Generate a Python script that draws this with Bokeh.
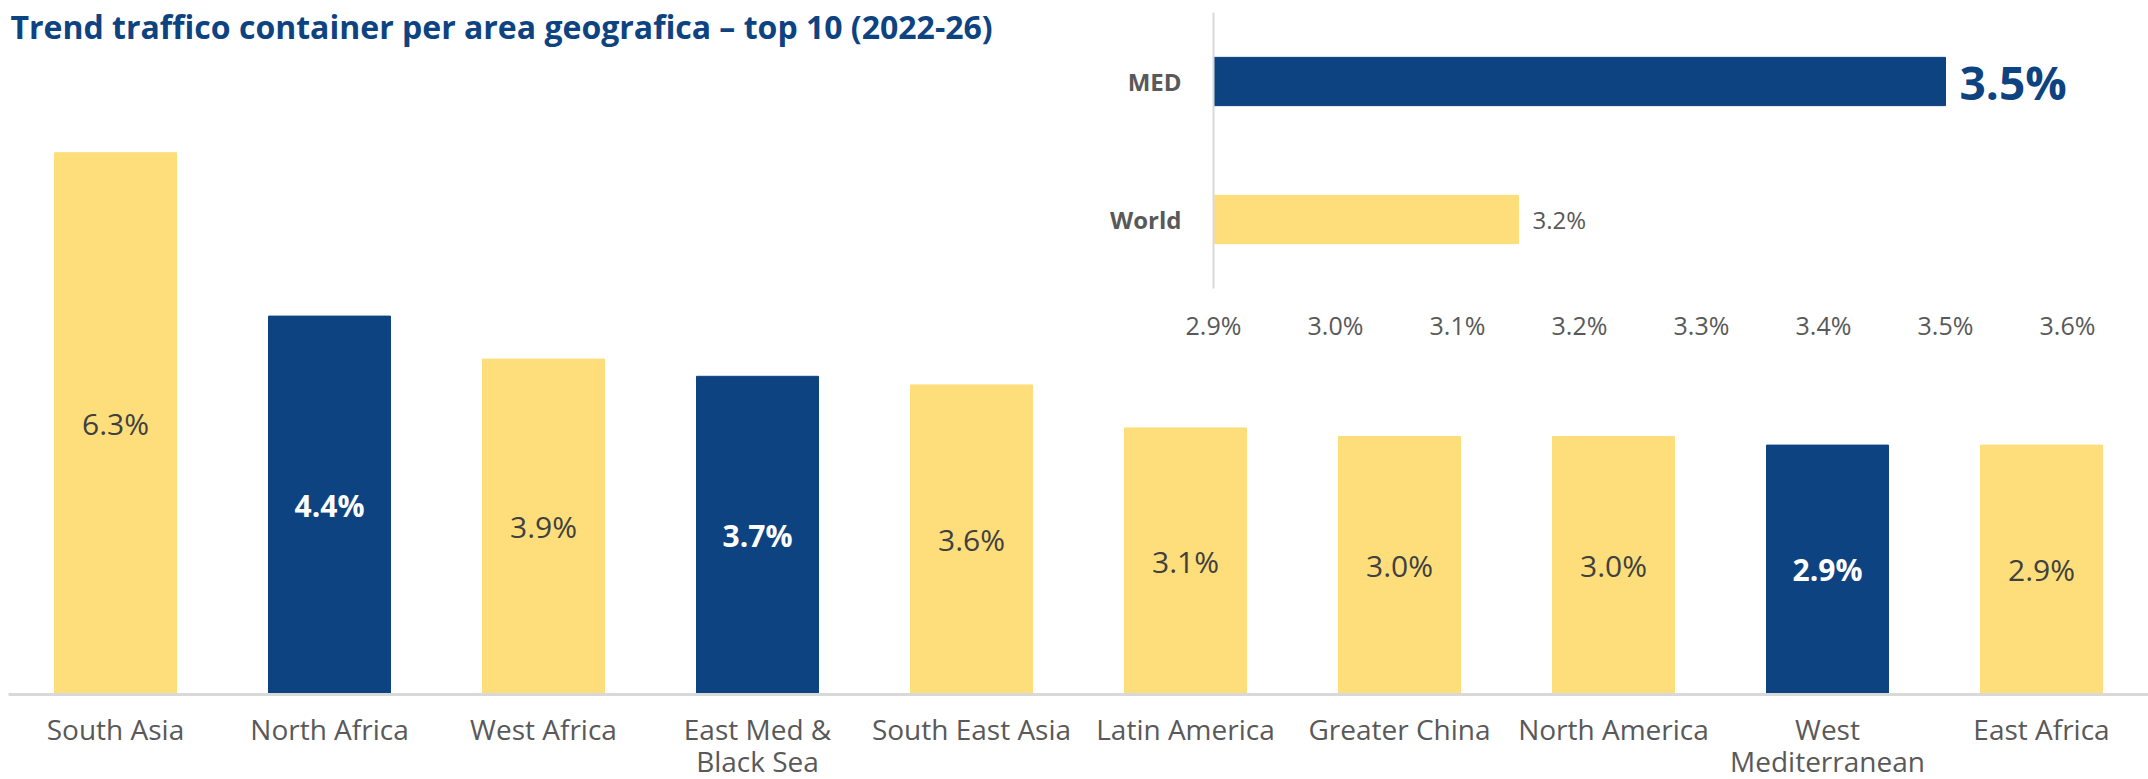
from bokeh.plotting import figure
from bokeh.models import ColumnDataSource, FactorRange, Range1d, FixedTicker, PrintfTickFormatter
from bokeh.layouts import column
from bokeh.core.properties import value
from bokeh.embed import file_html
from bokeh.resources import INLINE

# ---------------- data ----------------
regions = ["South Asia", "North Africa", "West Africa", "East Med &\nBlack Sea", "South East Asia",
           "Latin America", "Greater China", "North America", "West\nMediterranean", "East Africa"]
growth = [6.3, 4.4, 3.9, 3.7, 3.6, 3.1, 3.0, 3.0, 2.9, 2.9]
is_med = [False, True, False, True, False, False, False, False, True, False]

cmp_areas = ["MED", "World"]
cmp_growth = [3.5, 3.15]
cmp_labels = ["3.5%", "3.2%"]
cmp_ticks = [2.9, 3.0, 3.1, 3.2, 3.3, 3.4, 3.5, 3.6]

TITLE = "Trend traffico container per area geografica \u2013 top 10 (2022-26)"

# ---------------- style ----------------
BLUE = "#0E4382"
YELLOW = "#FDDE7B"
GREY = "#595959"
DARK = "#404040"
FONT = "Open Sans"

# ---------------- main chart ----------------
src = ColumnDataSource(dict(
    region=regions,
    growth=growth,
    mid=[g / 2 for g in growth],
    label=[f"{g:.1f}%" for g in growth],
    fill=[BLUE if m else YELLOW for m in is_med],
    tcolor=["white" if m else DARK for m in is_med],
    tstyle=["bold" if m else "normal" for m in is_med],
))

p = figure(frame_width=2140, frame_height=645, x_range=FactorRange(*regions), y_range=Range1d(0, 7.5),
           output_backend="svg", toolbar_location=None, y_axis_location=None,
           min_border_left=8, min_border_right=0, min_border_top=49, min_border_bottom=85)
p.frame_align = False
p.title.text = TITLE
p.title.text_font = FONT
p.title.text_font_size = "32px"
p.title.text_font_style = "bold"
p.title.text_color = BLUE
p.title.offset = 2
p.title.standoff = 4

p.vbar(x="region", top="growth", width=0.57, fill_color="fill", line_color="fill", source=src)
p.text(x="region", y="mid", text="label", source=src, text_align="center", text_baseline="middle",
       text_color="tcolor", text_font_style="tstyle", text_font=value(FONT), text_font_size="30px")

p.xaxis.axis_line_color = "#D9D9D9"
p.xaxis.axis_line_width = 3
p.xaxis.major_tick_line_color = None
p.xaxis.minor_tick_line_color = None
p.xaxis.major_label_text_font = FONT
p.xaxis.major_label_text_font_size = "28px"
p.xaxis.major_label_text_color = GREY
p.xaxis.major_label_text_line_height = 0.86
p.xaxis.major_label_standoff = 9
p.grid.visible = False
p.outline_line_color = None

# ---------------- inset: MED vs World ----------------
csrc = ColumnDataSource(dict(
    area=cmp_areas,
    growth=cmp_growth,
    base=[cmp_ticks[0]] * len(cmp_areas),
    label=cmp_labels,
    fill=[BLUE, YELLOW],
    tcolor=[BLUE, GREY],
    tstyle=["bold", "normal"],
    tsize=["46px", "24px"],
))

q = figure(frame_width=854, frame_height=276, x_range=Range1d(cmp_ticks[0], cmp_ticks[-1]),
           y_range=FactorRange(*reversed(cmp_areas)),
           output_backend="svg", toolbar_location=None,
           min_border_left=113, min_border_right=43, min_border_top=12, min_border_bottom=52)
q.frame_align = False
q.hbar(y="area", left="base", right="growth", height=0.35, fill_color="fill", line_color="fill", source=csrc)
q.text(x="growth", y="area", text="label", source=csrc, x_offset=14, text_align="left",
       text_baseline="middle", text_color="tcolor", text_font_style="tstyle",
       text_font_size="tsize", text_font=value(FONT))

q.xaxis.ticker = FixedTicker(ticks=cmp_ticks)
q.xaxis.formatter = PrintfTickFormatter(format="%.1f%%")
q.xaxis.axis_line_color = None
q.xaxis.major_tick_line_color = None
q.xaxis.minor_tick_line_color = None
q.xaxis.major_label_text_font = FONT
q.xaxis.major_label_text_font_size = "25px"
q.xaxis.major_label_text_color = GREY
q.xaxis.major_label_standoff = 13

q.yaxis.axis_line_color = "#D9D9D9"
q.yaxis.axis_line_width = 2
q.yaxis.major_tick_line_color = None
q.yaxis.minor_tick_line_color = None
q.yaxis.major_label_text_font = FONT
q.yaxis.major_label_text_font_size = "24px"
q.yaxis.major_label_text_font_style = "bold"
q.yaxis.major_label_text_color = GREY
q.yaxis.major_label_standoff = 26

q.grid.visible = False
q.outline_line_color = None
q.background_fill_alpha = 0
q.border_fill_alpha = 0
q.styles = {"position": "absolute", "left": "1100px", "top": "0px"}

layout = column(p, q)
open("out.html", "w").write(file_html(layout, INLINE))
